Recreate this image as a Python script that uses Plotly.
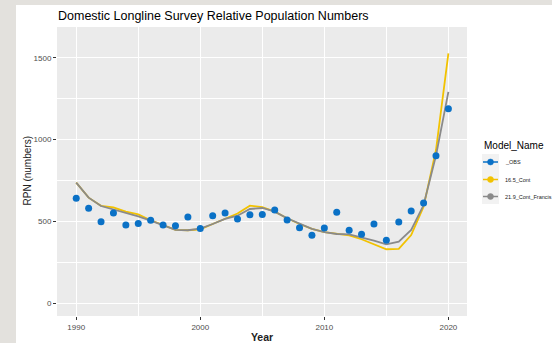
import plotly.graph_objects as go

# Survey years and relative population numbers (RPN)
years = list(range(1990, 2021))
obs_rpn = [641, 580, 498, 551, 478, 488, 507, 478, 474, 527,
           456, 535, 551, 515, 541, 543, 570, 509, 462, 415,
           460, 556, 446, 421, 484, 385, 497, 564, 613, 902, 1189]
cont_165 = [737, 645, 595, 586, 560, 543, 507, 478, 448, 446,
            452, 484, 515, 548, 596, 588, 560, 519, 484, 454,
            435, 423, 415, 391, 360, 330, 332, 417, 590, 936, 1527]
cont_219_francis = [737, 645, 594, 574, 550, 531, 505, 478, 448, 446,
                    456, 484, 515, 535, 576, 582, 560, 519, 484, 454,
                    435, 423, 421, 403, 382, 360, 376, 448, 600, 902, 1292]

series_names = ["_OBS", "16.5_Cont", "21.9_Cont_Francis"]
series_colors = ["#0a71c6", "#f2c200", "#8a8a8a"]
y_ticks = [0, 500, 1000, 1500]
x_ticks = [1990, 2000, 2010, 2020]

fig = go.Figure()

# model fits as lines
fig.add_trace(go.Scatter(x=years, y=cont_165, mode="lines", name=series_names[1],
                         line=dict(color=series_colors[1], width=1.8), showlegend=False))
fig.add_trace(go.Scatter(x=years, y=cont_219_francis, mode="lines", name=series_names[2],
                         line=dict(color=series_colors[2], width=1.8), showlegend=False))
# observed index as points
fig.add_trace(go.Scatter(x=years, y=obs_rpn, mode="markers", name=series_names[0],
                         marker=dict(color=series_colors[0], size=7), showlegend=False))

W, H = 552, 343
ml, mr, mt, mb = 57, 85, 27, 27
pw, ph = W - ml - mr, H - mt - mb


def px_x(p):
    return (p - ml) / pw


def px_y(p):
    return (H - mb - p) / ph


# grey slide edge along the left and top
edge = "#e3e1dd"
fig.add_shape(type="rect", xref="paper", yref="paper", x0=px_x(0), x1=px_x(16),
              y0=px_y(H), y1=px_y(0), fillcolor=edge, line_width=0, layer="below")
fig.add_shape(type="rect", xref="paper", yref="paper", x0=px_x(0), x1=px_x(W),
              y0=px_y(5), y1=px_y(0), fillcolor=edge, line_width=0, layer="below")

# legend: title, key background, line+point keys and labels
fig.add_annotation(text="Model_Name", xref="paper", yref="paper",
                   x=px_x(482), y=px_y(145), xanchor="left", yanchor="middle",
                   showarrow=False, font=dict(size=10, color="black"))
fig.add_shape(type="rect", xref="paper", yref="paper", x0=px_x(482), x1=px_x(499),
              y0=px_y(204), y1=px_y(154), fillcolor="#f2f2f2", line_width=0, layer="below")
key_rows = [162, 179.5, 196.5]
for nm, col, ky in zip(series_names, series_colors, key_rows):
    fig.add_shape(type="line", xref="paper", yref="paper",
                  x0=px_x(483), x1=px_x(498), y0=px_y(ky), y1=px_y(ky),
                  line=dict(color=col, width=1.5))
    fig.add_shape(type="circle", xref="paper", yref="paper",
                  x0=px_x(487.5), x1=px_x(493.5), y0=px_y(ky + 3), y1=px_y(ky - 3),
                  fillcolor=col, line=dict(color=col, width=0.5))
    fig.add_annotation(text=nm, xref="paper", yref="paper",
                       x=px_x(503), y=px_y(ky), xanchor="left", yanchor="middle",
                       showarrow=False, font=dict(size=5.5, color="#1a1a1a"))

# y-axis title
fig.add_annotation(text="RPN (numbers)", xref="paper", yref="paper",
                   x=px_x(27), y=0.5, xanchor="center", yanchor="middle",
                   textangle=-90, showarrow=False,
                   font=dict(size=10, color="#222222"))

fig.update_layout(
    width=W, height=H,
    margin=dict(l=ml, r=mr, t=mt, b=mb, autoexpand=False),
    paper_bgcolor="white",
    plot_bgcolor="#ebebeb",
    font=dict(family="Liberation Sans, Arial, sans-serif", color="#4d4d4d"),
    title=dict(text="Domestic Longline Survey Relative Population Numbers",
               x=px_x(58), xanchor="left", xref="paper",
               y=1 - 16 / H, yanchor="middle",
               font=dict(size=12.5, color="black")),
    showlegend=False,
)

fig.update_xaxes(
    range=[1988.45, 2021.5], tickvals=x_ticks, ticks="outside", ticklen=3,
    tickcolor="#333333", tickfont=dict(size=8, color="#4d4d4d"),
    showgrid=True, gridcolor="white", gridwidth=1.1,
    minor=dict(dtick=5, tick0=1985, showgrid=True, gridcolor="white", gridwidth=0.5),
    zeroline=False, showline=False, automargin=False,
    title=dict(text="<b>Year</b>", font=dict(size=10.5, color="#222222"), standoff=4),
)
fig.update_yaxes(
    range=[-78, 1688], tickvals=y_ticks, ticks="outside", ticklen=3,
    tickcolor="#333333", tickfont=dict(size=8, color="#4d4d4d"),
    showgrid=True, gridcolor="white", gridwidth=1.1,
    minor=dict(dtick=250, tick0=0, showgrid=True, gridcolor="white", gridwidth=0.5),
    zeroline=False, showline=False, automargin=False,
)

fig.write_html("out.html")
